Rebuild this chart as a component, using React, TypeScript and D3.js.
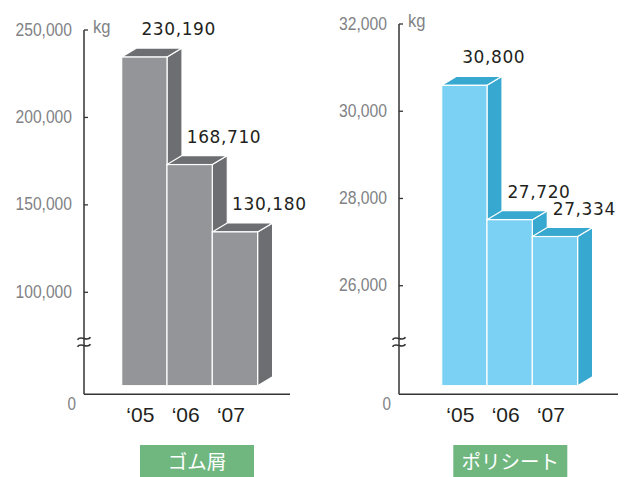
import React from "react";
import * as d3 from "d3";

const years = ["‘05", "‘06", "‘07"];
const rubberValues = [230190, 168710, 130180];
const sheetValues = [30800, 27720, 27334];
const rubberTicks = [250000, 200000, 150000, 100000];
const sheetTicks = [32000, 30000, 28000, 26000];
const rubberTitle = "ゴム屑";
const sheetTitle = "ポリシート";

type Layout = {
  axisX: number; xEnd: number; barStart: number; barW: number;
  yTop: number; yLow: number; baseline: number; shift: number; labelDx: number;
  boxX: number; boxW: number; front: string; dark: string;
};

const W = 624, H = 477;
const depthX = 15, depthY = 9;
const fmt = d3.format(",");
const narrowWidth = (s: string) => s.replace(/,/g, "").length * 8.5 + (s.match(/,/g) || []).length * 5.5;

function Chart({ values, ticks, title, L }: { values: number[]; ticks: number[]; title: string; L: Layout }) {
  const y = d3.scaleLinear().domain([d3.min(ticks)!, d3.max(ticks)!]).range([L.yLow, L.yTop]);
  const x = d3.scaleBand().domain(years).range([L.barStart, L.barStart + L.barW * years.length]).padding(0);
  const barBottom = L.baseline - 8.6;
  const tickFont = "'Liberation Sans', sans-serif";
  const breakY = 342;
  return (
    <g>
      {values.map((v, i) => {
        const x0 = x(years[i])!;
        const w = x.bandwidth();
        const t = y(v) + L.shift;
        const top = `M${x0},${t} L${x0 + depthX},${t - depthY} L${x0 + w + depthX},${t - depthY} L${x0 + w},${t} Z`;
        const side = `M${x0 + w},${t} L${x0 + w + depthX},${t - depthY} L${x0 + w + depthX},${barBottom - depthY} L${x0 + w},${barBottom} Z`;
        return (
          <g key={i}>
            <path d={side} fill={L.dark} stroke="#fff" strokeWidth={1.2} strokeLinejoin="round" />
            <path d={top} fill={L.dark} stroke="#fff" strokeWidth={1.2} strokeLinejoin="round" />
            <rect x={x0} y={t} width={w} height={barBottom - t} fill={L.front} stroke="#fff" strokeWidth={1.2} />
          </g>
        );
      })}
      {values.map((v, i) => {
        const x0 = x(years[i])!;
        const t = y(v) + L.shift;
        return (
          <text key={"l" + i} x={x0 + L.labelDx} y={t - 22} textAnchor="middle" fontFamily="'DejaVu Sans', sans-serif"
            fontSize={17} letterSpacing={0.6} fill="#231f20">{fmt(v)}</text>
        );
      })}
      {/* axes */}
      <line x1={L.axisX} x2={L.axisX} y1={L.yTop} y2={L.baseline} stroke="#333" strokeWidth={1.5} />
      <line x1={L.axisX} x2={L.xEnd} y1={L.baseline} y2={L.baseline} stroke="#333" strokeWidth={1.5} />
      {ticks.map((tk) => (
        <g key={tk}>
          <line x1={L.axisX} x2={L.axisX + 4} y1={y(tk)} y2={y(tk)} stroke="#333" strokeWidth={1.3} />
          <text x={L.axisX - 12} y={y(tk) + 5.5} textAnchor="end" fontFamily={tickFont} fontSize={18.5} fill="#808285"
            textLength={narrowWidth(fmt(tk))} lengthAdjust="spacingAndGlyphs">{fmt(tk)}</text>
        </g>
      ))}
      <text x={L.axisX - 8} y={L.baseline + 15.5} textAnchor="end" fontFamily={tickFont} fontSize={18.5} fill="#808285"
        textLength={8.5} lengthAdjust="spacingAndGlyphs">0</text>
      <text x={L.axisX + 9} y={y(d3.max(ticks)!) + 3.3} fontFamily={tickFont} fontSize={18.5} fill="#808285"
        textLength={17.5} lengthAdjust="spacingAndGlyphs">kg</text>
      {[breakY - 3.5, breakY + 3.5].map((by, k) => (
        <path key={k} d={`M${L.axisX - 6.5},${by + 1.2} C${L.axisX - 3},${by - 4} ${L.axisX + 3},${by + 4} ${L.axisX + 6.5},${by - 1.2}`}
          fill="none" stroke="#333" strokeWidth={1.6} />
      ))}
      {years.map((yr) => (
        <text key={yr} x={x(yr)! + x.bandwidth() / 2 - 4} y={L.baseline + 27.3} textAnchor="middle"
          fontFamily="'Liberation Sans', sans-serif" fontSize={21} fill="#231f20">{yr}</text>
      ))}
      <rect x={L.boxX} y={445} width={L.boxW} height={32} fill="#6fb77f" />
      <text x={L.boxX + L.boxW / 2} y={468.5} textAnchor="middle" fontFamily="'Noto Sans CJK JP', sans-serif"
        fontSize={19.5} fill="#fff">{title}</text>
    </g>
  );
}

const leftLayout: Layout = {
  axisX: 84, xEnd: 290, barStart: 121.7, barW: 45.3, yTop: 30, yLow: 292.3, baseline: 394.3, shift: -7.6, labelDx: 57,
  boxX: 140, boxW: 114, front: "#939598", dark: "#6d6e71",
};
const rightLayout: Layout = {
  axisX: 399, xEnd: 618, barStart: 441.7, barW: 45.3, yTop: 24, yLow: 285.7, baseline: 394.3, shift: 9, labelDx: 52,
  boxX: 453.3, boxW: 114, front: "#7bd1f3", dark: "#37a8cf",
};

export default function App() {
  return (
    <svg width={W} height={H} viewBox={`0 0 ${W} ${H}`} style={{ position: "absolute", left: 0, top: 0, background: "#fff" }}>
      <rect width={W} height={H} fill="#fff" />
      <Chart values={rubberValues} ticks={rubberTicks} title={rubberTitle} L={leftLayout} />
      <Chart values={sheetValues} ticks={sheetTicks} title={sheetTitle} L={rightLayout} />
    </svg>
  );
}
